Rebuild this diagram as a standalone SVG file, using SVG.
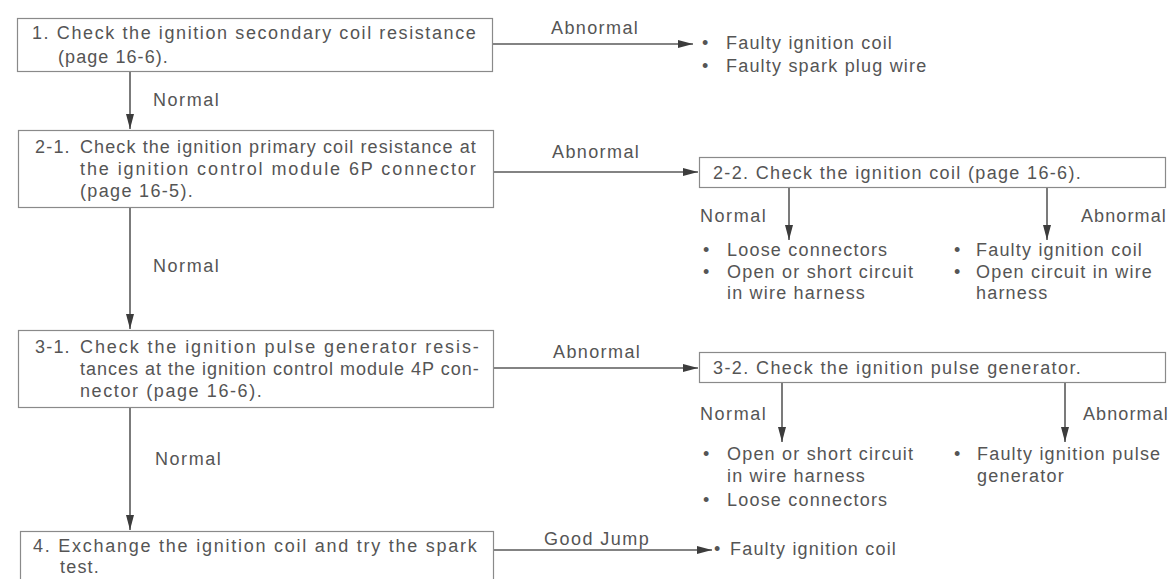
<svg xmlns="http://www.w3.org/2000/svg" width="1172" height="579" viewBox="0 0 1172 579">
  <defs>
    <marker id="arrow" markerUnits="userSpaceOnUse" markerWidth="16" markerHeight="10" refX="15" refY="5" orient="auto">
      <path d="M0,1 L15,5 L0,9 Z" fill="#3c3c3c"/>
    </marker>
    <style>
      .box { fill: #ffffff; stroke: #8a8a8a; stroke-width: 1.2; }
      .conn { fill: none; stroke: #5a5a5a; stroke-width: 1.6; }
      .t { font-family: "Liberation Sans", Arial, sans-serif; font-size: 18px; fill: #555555; letter-spacing: 1.2px; }
    </style>
  </defs>
  <rect width="1172" height="579" fill="#ffffff"/>

  <g id="connectors">
    <line class="conn" x1="492" y1="44" x2="693" y2="44" marker-end="url(#arrow)"/>
    <line class="conn" x1="130" y1="71" x2="130" y2="129" marker-end="url(#arrow)"/>
    <line class="conn" x1="493" y1="172" x2="698" y2="172" marker-end="url(#arrow)"/>
    <line class="conn" x1="789" y1="187" x2="789" y2="240" marker-end="url(#arrow)"/>
    <line class="conn" x1="1047" y1="187" x2="1047" y2="240" marker-end="url(#arrow)"/>
    <line class="conn" x1="130" y1="207" x2="130" y2="329" marker-end="url(#arrow)"/>
    <line class="conn" x1="493" y1="368" x2="698" y2="368" marker-end="url(#arrow)"/>
    <line class="conn" x1="782" y1="383" x2="782" y2="442" marker-end="url(#arrow)"/>
    <line class="conn" x1="1065" y1="383" x2="1065" y2="442" marker-end="url(#arrow)"/>
    <line class="conn" x1="130" y1="407" x2="130" y2="530" marker-end="url(#arrow)"/>
    <line class="conn" x1="493" y1="550" x2="712" y2="550" marker-end="url(#arrow)"/>
    <text class="t" x="551" y="34" textLength="88" lengthAdjust="spacing">Abnormal</text>
    <text class="t" x="153" y="106" textLength="67" lengthAdjust="spacing">Normal</text>
    <text class="t" x="552" y="158" textLength="88" lengthAdjust="spacing">Abnormal</text>
    <text class="t" x="700" y="222" textLength="67" lengthAdjust="spacing">Normal</text>
    <text class="t" x="1081" y="222" textLength="86" lengthAdjust="spacing">Abnormal</text>
    <text class="t" x="153" y="272" textLength="67" lengthAdjust="spacing">Normal</text>
    <text class="t" x="553" y="358" textLength="88" lengthAdjust="spacing">Abnormal</text>
    <text class="t" x="700" y="420" textLength="67" lengthAdjust="spacing">Normal</text>
    <text class="t" x="1083" y="420" textLength="86" lengthAdjust="spacing">Abnormal</text>
    <text class="t" x="155" y="465" textLength="67" lengthAdjust="spacing">Normal</text>
    <text class="t" x="544" y="545" textLength="106" lengthAdjust="spacing">Good Jump</text>
  </g>

  <g id="step1">
    <rect class="box" x="17.5" y="18.5" width="475" height="53"/>
    <text class="t" x="32" y="39" textLength="445" lengthAdjust="spacing">1. Check the ignition secondary coil resistance</text>
    <text class="t" x="58" y="63" textLength="111" lengthAdjust="spacing">(page 16-6).</text>
  </g>

  <g id="result1">
    <text class="t" x="702" y="49">•</text>
    <text class="t" x="726" y="49">Faulty ignition coil</text>
    <text class="t" x="702" y="72">•</text>
    <text class="t" x="726" y="72">Faulty spark plug wire</text>
  </g>

  <g id="step2-1">
    <rect class="box" x="18.5" y="130.5" width="475" height="77"/>
    <text class="t" x="35" y="153">2-1.</text>
    <text class="t" x="80" y="153" textLength="397" lengthAdjust="spacing">Check the ignition primary coil resistance at</text>
    <text class="t" x="80" y="175" textLength="397" lengthAdjust="spacing">the ignition control module 6P connector</text>
    <text class="t" x="80" y="197" textLength="114" lengthAdjust="spacing">(page 16-5).</text>
  </g>

  <g id="step2-2">
    <rect class="box" x="699.5" y="157.5" width="466" height="30"/>
    <text class="t" x="713" y="179" textLength="369" lengthAdjust="spacing">2-2. Check the ignition coil (page 16-6).</text>
  </g>

  <g id="result2-normal">
    <text class="t" x="703" y="256">•</text>
    <text class="t" x="727" y="256">Loose connectors</text>
    <text class="t" x="703" y="278">•</text>
    <text class="t" x="727" y="278">Open or short circuit</text>
    <text class="t" x="727" y="299">in wire harness</text>
  </g>

  <g id="result2-abnormal">
    <text class="t" x="954" y="256">•</text>
    <text class="t" x="976" y="256">Faulty ignition coil</text>
    <text class="t" x="954" y="278">•</text>
    <text class="t" x="976" y="278">Open circuit in wire</text>
    <text class="t" x="976" y="299">harness</text>
  </g>

  <g id="step3-1">
    <rect class="box" x="18.5" y="330.5" width="475" height="77"/>
    <text class="t" x="35" y="353">3-1.</text>
    <text class="t" x="80" y="353" textLength="400" lengthAdjust="spacing">Check the ignition pulse generator resis-</text>
    <text class="t" x="80" y="375" textLength="400" lengthAdjust="spacing">tances at the ignition control module 4P con-</text>
    <text class="t" x="80" y="397" textLength="183" lengthAdjust="spacing">nector (page 16-6).</text>
  </g>

  <g id="step3-2">
    <rect class="box" x="699.5" y="352.5" width="466" height="30"/>
    <text class="t" x="713" y="374" textLength="369" lengthAdjust="spacing">3-2. Check the ignition pulse generator.</text>
  </g>

  <g id="result3-normal">
    <text class="t" x="703" y="460">•</text>
    <text class="t" x="727" y="460">Open or short circuit</text>
    <text class="t" x="727" y="482">in wire harness</text>
    <text class="t" x="703" y="506">•</text>
    <text class="t" x="727" y="506">Loose connectors</text>
  </g>

  <g id="result3-abnormal">
    <text class="t" x="954" y="460">•</text>
    <text class="t" x="977" y="460">Faulty ignition pulse</text>
    <text class="t" x="977" y="482">generator</text>
  </g>

  <g id="step4">
    <rect class="box" x="20.5" y="531.5" width="473" height="60"/>
    <text class="t" x="33" y="552" textLength="445" lengthAdjust="spacing">4. Exchange the ignition coil and try the spark</text>
    <text class="t" x="60" y="573">test.</text>
  </g>

  <g id="result4">
    <text class="t" x="714" y="555">•</text>
    <text class="t" x="730" y="555">Faulty ignition coil</text>
  </g>
</svg>
